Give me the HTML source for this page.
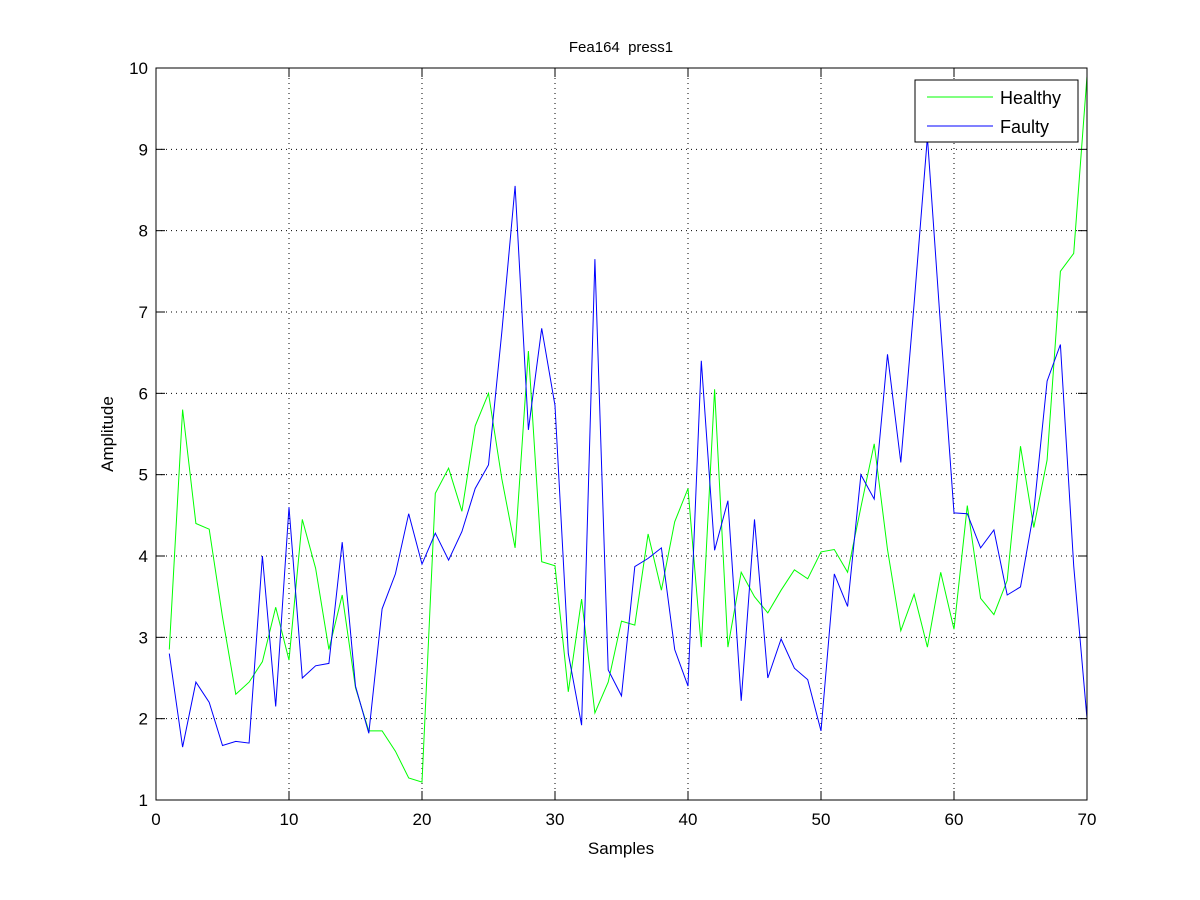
<!DOCTYPE html>
<html><head><meta charset="utf-8"><style>html,body{margin:0;padding:0;background:#fff;}svg{display:block;font-family:"Liberation Sans",Arial,sans-serif;}</style></head>
<body>
<svg id="chart" width="1200" height="900" viewBox="0 0 1200 900" xmlns="http://www.w3.org/2000/svg">
<rect x="0" y="0" width="1200" height="900" fill="#fff"/>
<g id="grid"></g>
<g id="series"></g>
<rect x="156" y="68" width="931" height="732" fill="none" stroke="#000" stroke-width="1"/>
<g id="ticks"></g>
<text x="621" y="52" font-size="15" text-anchor="middle" xml:space="preserve">Fea164  press1</text>
<text x="621" y="854" font-size="17" text-anchor="middle">Samples</text>
<text x="113" y="434" font-size="17" text-anchor="middle" transform="rotate(-90 113 434)">Amplitude</text>
<g>
<rect x="915" y="80" width="163" height="62" fill="#fff" stroke="#000"/>
<line x1="927" y1="97" x2="993" y2="97" stroke="#00ff00"/>
<text x="1000" y="104" font-size="18">Healthy</text>
<line x1="927" y1="126" x2="993" y2="126" stroke="#0000ff"/>
<text x="1000" y="133" font-size="18">Faulty</text>
</g>
</svg>
<script>
const xTicks = [0,10,20,30,40,50,60,70];
const yTicks = [1,2,3,4,5,6,7,8,9,10];
const healthy = [2.85,5.8,4.4,4.33,3.25,2.3,2.45,2.7,3.37,2.72,4.45,3.85,2.85,3.52,2.38,1.85,1.85,1.6,1.27,1.22,4.77,5.08,4.55,5.6,6.0,4.95,4.1,6.52,3.93,3.88,2.33,3.47,2.07,2.45,3.2,3.15,4.27,3.58,4.42,4.83,2.88,6.05,2.88,3.8,3.5,3.3,3.58,3.83,3.72,4.05,4.08,3.8,4.6,5.38,4.08,3.08,3.53,2.88,3.8,3.1,4.62,3.48,3.28,3.7,5.35,4.35,5.18,7.5,7.72,9.9];
const faulty = [2.8,1.65,2.45,2.2,1.67,1.72,1.7,4.0,2.15,4.6,2.5,2.65,2.68,4.17,2.4,1.82,3.35,3.78,4.52,3.9,4.28,3.95,4.3,4.83,5.12,6.75,8.55,5.55,6.8,5.85,2.8,1.92,7.65,2.6,2.28,3.87,3.97,4.1,2.85,2.4,6.4,4.07,4.68,2.22,4.45,2.5,2.98,2.62,2.48,1.85,3.78,3.38,5.0,4.7,6.48,5.15,7.1,9.15,6.8,4.53,4.52,4.1,4.32,3.52,3.62,4.55,6.15,6.6,3.88,2.0];
const NS='http://www.w3.org/2000/svg';
const L=156,R=1087,T=68,B=800;
const xs=v=>L+(v-0)/(70-0)*(R-L);
const ys=v=>B-(v-1)/(10-1)*(B-T);
const grid=document.getElementById('grid'),ticks=document.getElementById('ticks'),series=document.getElementById('series');
function mk(tag,attrs,parent){const e=document.createElementNS(NS,tag);for(const k in attrs)e.setAttribute(k,attrs[k]);parent.appendChild(e);return e;}
xTicks.forEach(t=>{
  const x=xs(t);
  if(t>0&&t<70){const g=mk('line',{x1:x,y1:T,x2:x,y2:B,stroke:'#000','stroke-dasharray':'1,4'},grid);
  
  }
  const a=mk('line',{x1:x,y1:B,x2:x,y2:B-9,stroke:'#000'},ticks);
  
  
  const b=mk('line',{x1:x,y1:T,x2:x,y2:T+9,stroke:'#000'},ticks);
  
  
  const tx=mk('text',{x:x,y:B+25,'font-size':17,'text-anchor':'middle'},ticks);tx.textContent=t;
  
  
});
yTicks.forEach(t=>{
  const y=ys(t);
  if(t>1&&t<10){const g=mk('line',{x1:L,y1:y,x2:R,y2:y,stroke:'#000','stroke-dasharray':'1,4'},grid);
  
  }
  const a=mk('line',{x1:L,y1:y,x2:L+9,y2:y,stroke:'#000'},ticks);
  
  
  const b=mk('line',{x1:R,y1:y,x2:R-9,y2:y,stroke:'#000'},ticks);
  
  
  const tx=mk('text',{x:L-8,y:y+6,'font-size':17,'text-anchor':'end'},ticks);tx.textContent=t;
  
  
});
function line(data,color,name){
  const pts=data.map((v,i)=>xs(i+1).toFixed(1)+','+ys(v).toFixed(1)).join(' ');
  const p=mk('polyline',{points:pts,fill:'none',stroke:color,'stroke-width':1},series);
  
  
}
line(healthy,'#00ff00','healthy-line');
line(faulty,'#0000ff','faulty-line');
</script>
</body></html>
